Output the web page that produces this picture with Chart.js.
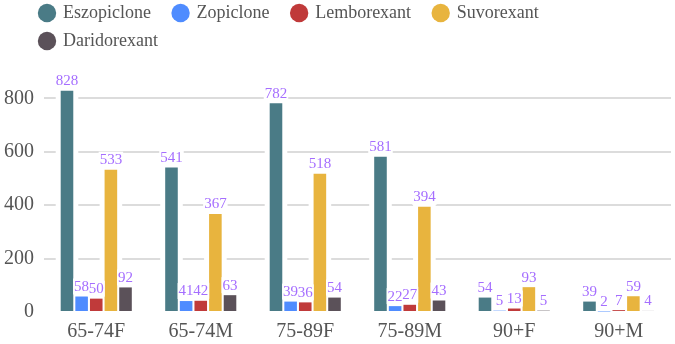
<!DOCTYPE html>
<html><head><meta charset="utf-8">
<script src="https://cdn.jsdelivr.net/npm/chart.js@4"></script>
<style>html,body{margin:0;padding:0;background:#fff}#wrap{width:675px;height:344px;position:relative}</style>
</head><body><div id="wrap"><canvas id="c"></canvas></div>
<script>
const categories = ['65-74F','65-74M','75-89F','75-89M','90+F','90+M'];
const seriesNames = ['Eszopiclone','Zopiclone','Lemborexant','Suvorexant','Daridorexant'];
const eszopiclone = [828,541,782,581,54,39];
const zopiclone = [58,41,39,22,5,2];
const lemborexant = [50,42,36,27,13,7];
const suvorexant = [533,367,518,394,93,59];
const daridorexant = [92,63,54,43,5,4];
const yTicks = [0,200,400,600,800];
const colors = ['#4a7b86','#4f8cff','#c03a3a','#e8b43e','#5b5159'];

const FONT = "'Liberation Serif', 'Times New Roman', serif";
const seriesValues = [eszopiclone, zopiclone, lemborexant, suvorexant, daridorexant];

const haloPlugin = {
  id: 'halo',
  beforeDatasetsDraw(chart) {
    const ctx = chart.ctx;
    ctx.save();
    ctx.fillStyle = '#ffffff';
    chart.data.datasets.forEach((ds, i) => {
      chart.getDatasetMeta(i).data.forEach(el => {
        const p = el.getProps(['x','y','base','width'], true);
        ctx.fillRect(p.x - p.width/2 - 5, p.y - 4, p.width + 10, p.base - p.y + 4);
      });
    });
    ctx.restore();
  }
};

const labelPlugin = {
  id: 'valLabels',
  afterDatasetsDraw(chart) {
    const ctx = chart.ctx;
    ctx.save();
    ctx.font = "15px " + FONT;
    ctx.textAlign = 'center';
    ctx.textBaseline = 'bottom';
    const items = [];
    chart.data.datasets.forEach((ds, i) => {
      chart.getDatasetMeta(i).data.forEach((el, j) => {
        const p = el.getProps(['x','y'], true);
        items.push({x: p.x, y: p.y - 2, t: String(ds.data[j])});
      });
    });
    ctx.fillStyle = '#ffffff';
    items.forEach(it => {
      const w = ctx.measureText(it.t).width;
      ctx.fillRect(it.x - w/2 - 1, it.y - 16, w + 2, 16);
    });
    ctx.fillStyle = '#a56eff';
    items.forEach(it => ctx.fillText(it.t, it.x, it.y));
    ctx.restore();
  }
};

const legendHack = {
  id: 'legendHack',
  beforeUpdate(chart) {
    const lg = chart.legend;
    if (!lg || lg._patched) return;
    lg._patched = true;
    const up = lg.update;
    lg.update = function(w, h, m) { return up.call(this, Math.min(w, 560), h, m); };
  },
  afterLayout(chart) {
    const lg = chart.legend;
    lg.left = 30;
    lg.top = -6;
  }
};

new Chart(document.getElementById('c'), {
  type: 'bar',
  data: {
    labels: categories,
    datasets: seriesNames.map((n, i) => ({
      label: n,
      data: seriesValues[i],
      backgroundColor: colors[i],
      borderWidth: 0,
      barPercentage: 0.86,
      categoryPercentage: 0.7
    }))
  },
  options: {
    responsive: true,
    maintainAspectRatio: false,
    animation: false,
    layout: { padding: { left: -6, right: 4, top: 0, bottom: 0 } },
    plugins: {
      tooltip: { enabled: false },
      legend: {
        position: 'top',
        align: 'start',
        labels: {
          usePointStyle: true,
          pointStyle: 'circle',
          boxWidth: 14,
          boxHeight: 13,
          padding: 10,
          color: '#555',
          font: { family: FONT, size: 18 },
          generateLabels(chart) {
            const base = Chart.defaults.plugins.legend.labels.generateLabels(chart);
            base.forEach(l => { l.text = l.text + '\u2002\u2009'; l.lineWidth = 0; l.strokeStyle = l.fillStyle; });
            return base;
          }
        }
      }
    },
    scales: {
      x: {
        grid: { display: false },
        border: { display: false },
        ticks: { color: '#555', font: { family: FONT, size: 20 }, padding: 0 }
      },
      y: {
        min: 0,
        max: 921,
        border: { display: false },
        afterBuildTicks(scale) { scale.ticks = yTicks.map(v => ({ value: v })); },
        grid: {
          drawTicks: false,
          lineWidth: 2,
          color: ctx => (ctx.tick && ctx.tick.value === 0) ? 'rgba(0,0,0,0)' : '#dcdcdc'
        },
        ticks: { color: '#555', font: { family: FONT, size: 20 }, padding: 10 }
      }
    }
  },
  plugins: [legendHack, haloPlugin, labelPlugin]
});
</script>
</body></html>
